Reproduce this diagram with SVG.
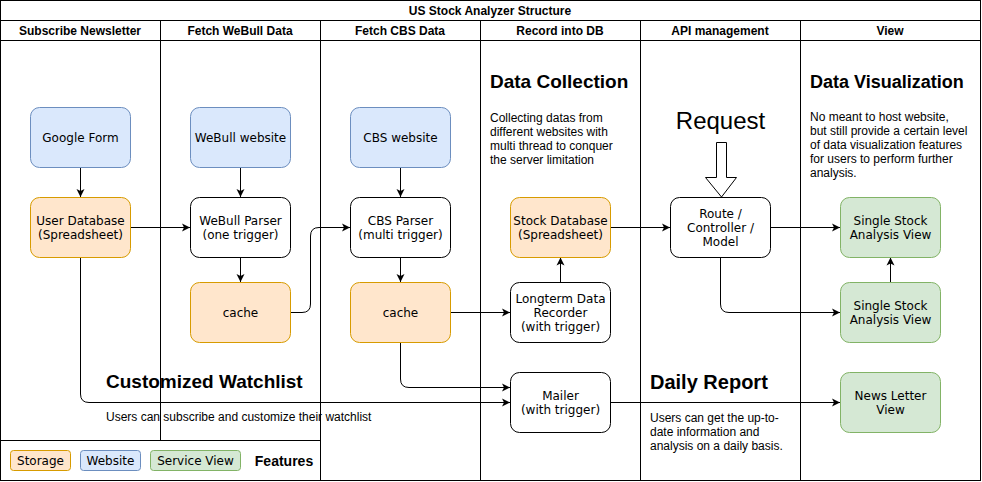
<svg xmlns="http://www.w3.org/2000/svg" width="982" height="482" viewBox="0 0 982 482">
<defs>
<marker id="arr" markerWidth="10" markerHeight="10" refX="8" refY="5" orient="auto" markerUnits="userSpaceOnUse">
<path d="M0,1 L8,5 L0,9 L2,5 Z" fill="#000"/>
</marker>
</defs>
<style>
.lane{fill:none;stroke:#000;stroke-width:1}
.hdr{font-family:"Liberation Sans",Arial,sans-serif;font-size:12px;font-weight:bold;text-anchor:middle;fill:#000}
.node rect{stroke-width:1}
.plain{fill:#fff;stroke:#000}
.org{fill:#ffe6cc;stroke:#d79b00}
.blu{fill:#dae8fc;stroke:#6c8ebf}
.grn{fill:#d5e8d4;stroke:#82b366}
.lbl{font-family:"DejaVu Sans",Verdana,sans-serif;font-size:12px;text-anchor:middle;fill:#000}
.big{font-family:"Liberation Sans",Arial,sans-serif;font-size:18px;font-weight:bold;fill:#000}
.body{font-family:"Liberation Sans",Arial,sans-serif;font-size:12px;fill:#000}
.edge{fill:none;stroke:#000;stroke-width:1;marker-end:url(#arr)}
</style>
<rect width="982" height="482" fill="#fff"/>
<g id="frame" class="lane">
<rect x="0.5" y="0.5" width="980" height="480"/>
<line x1="0.5" y1="20.5" x2="980.5" y2="20.5"/>
<line x1="0.5" y1="40.5" x2="980.5" y2="40.5"/>
<line x1="160.5" y1="20.5" x2="160.5" y2="440.5"/>
<line x1="320.5" y1="20.5" x2="320.5" y2="480.5"/>
<line x1="480.5" y1="20.5" x2="480.5" y2="480.5"/>
<line x1="640.5" y1="20.5" x2="640.5" y2="480.5"/>
<line x1="800.5" y1="20.5" x2="800.5" y2="480.5"/>
<line x1="0.5" y1="440.5" x2="320.5" y2="440.5"/>
</g>
<g id="headers">
<text class="hdr" x="490" y="15">US Stock Analyzer Structure</text>
<text class="hdr" x="80" y="35">Subscribe Newsletter</text>
<text class="hdr" x="240" y="35">Fetch WeBull Data</text>
<text class="hdr" x="400" y="35">Fetch CBS Data</text>
<text class="hdr" x="560" y="35">Record into DB</text>
<text class="hdr" x="720" y="35">API management</text>
<text class="hdr" x="890" y="35">View</text>
</g>
<g id="connectors">
<path class="edge" d="M80.5,167.5 V197"/>
<path class="edge" d="M130.5,227.5 H190"/>
<path class="edge" d="M240.5,167.5 V197"/>
<path class="edge" d="M240.5,257.5 V282"/>
<path class="edge" d="M290.5,312.5 H302 Q310.5,312.5 310.5,304 V236 Q310.5,227.5 319,227.5 H350"/>
<path class="edge" d="M400.5,167.5 V197"/>
<path class="edge" d="M400.5,257.5 V282"/>
<path class="edge" d="M450.5,312.5 H510"/>
<path class="edge" d="M560.5,282.5 V257.5"/>
<path class="edge" d="M610.5,227.5 H670"/>
<path class="edge" d="M770.5,227.5 H840"/>
<path class="edge" d="M720.5,257.5 V304 Q720.5,312.5 729,312.5 H840"/>
<path class="edge" d="M890.5,282.5 V257.5"/>
<path class="edge" d="M400.5,342.5 V379 Q400.5,387.5 409,387.5 H510"/>
<path class="edge" d="M80.5,257.5 V394 Q80.5,402.5 89,402.5 H510"/>
<path class="edge" d="M610.5,402.5 H840"/>
<path d="M716.5,142.5 H726.5 V177.5 H736.5 L721.5,197 L705.5,177.5 H716.5 Z" fill="#fff" stroke="#000"/>
</g>
<g id="google-form" class="node"><rect class="blu" x="30.5" y="107.5" width="100" height="60" rx="9"/><text class="lbl" x="80.5" y="141.5">Google Form</text></g>
<g id="user-db" class="node"><rect class="org" x="30.5" y="197.5" width="100" height="60" rx="9"/><text class="lbl" x="80.5" y="224.5">User Database</text><text class="lbl" x="80.5" y="238.5">(Spreadsheet)</text></g>
<g id="webull-site" class="node"><rect class="blu" x="190.5" y="107.5" width="100" height="60" rx="9"/><text class="lbl" x="240.5" y="141.5">WeBull website</text></g>
<g id="webull-parser" class="node"><rect class="plain" x="190.5" y="197.5" width="100" height="60" rx="9"/><text class="lbl" x="240.5" y="224.5">WeBull Parser</text><text class="lbl" x="240.5" y="238.5">(one trigger)</text></g>
<g id="webull-cache" class="node"><rect class="org" x="190.5" y="282.5" width="100" height="60" rx="9"/><text class="lbl" x="240.5" y="316.5">cache</text></g>
<g id="cbs-site" class="node"><rect class="blu" x="350.5" y="107.5" width="100" height="60" rx="9"/><text class="lbl" x="400.5" y="141.5">CBS website</text></g>
<g id="cbs-parser" class="node"><rect class="plain" x="350.5" y="197.5" width="100" height="60" rx="9"/><text class="lbl" x="400.5" y="224.5">CBS Parser</text><text class="lbl" x="400.5" y="238.5">(multi trigger)</text></g>
<g id="cbs-cache" class="node"><rect class="org" x="350.5" y="282.5" width="100" height="60" rx="9"/><text class="lbl" x="400.5" y="316.5">cache</text></g>
<g id="stock-db" class="node"><rect class="org" x="510.5" y="197.5" width="100" height="60" rx="9"/><text class="lbl" x="560.5" y="224.5">Stock Database</text><text class="lbl" x="560.5" y="238.5">(Spreadsheet)</text></g>
<g id="recorder" class="node"><rect class="plain" x="510.5" y="282.5" width="100" height="60" rx="9"/><text class="lbl" x="560.5" y="302.5">Longterm Data</text><text class="lbl" x="560.5" y="316.5">Recorder</text><text class="lbl" x="560.5" y="330.5">(with trigger)</text></g>
<g id="mailer" class="node"><rect class="plain" x="510.5" y="372.5" width="100" height="60" rx="9"/><text class="lbl" x="560.5" y="399.5">Mailer</text><text class="lbl" x="560.5" y="413.5">(with trigger)</text></g>
<g id="route" class="node"><rect class="plain" x="670.5" y="197.5" width="100" height="60" rx="9"/><text class="lbl" x="720.5" y="217.5">Route /</text><text class="lbl" x="720.5" y="231.5">Controller /</text><text class="lbl" x="720.5" y="245.5">Model</text></g>
<g id="ss-view-1" class="node"><rect class="grn" x="840.5" y="197.5" width="100" height="60" rx="9"/><text class="lbl" x="890.5" y="224.5">Single Stock</text><text class="lbl" x="890.5" y="238.5">Analysis View</text></g>
<g id="ss-view-2" class="node"><rect class="grn" x="840.5" y="282.5" width="100" height="60" rx="9"/><text class="lbl" x="890.5" y="309.5">Single Stock</text><text class="lbl" x="890.5" y="323.5">Analysis View</text></g>
<g id="newsletter-view" class="node"><rect class="grn" x="840.5" y="372.5" width="100" height="60" rx="9"/><text class="lbl" x="890.5" y="399.5">News Letter</text><text class="lbl" x="890.5" y="413.5">View</text></g>
<g id="request"><text x="720.5" y="129" font-family="Liberation Sans, Arial, sans-serif" font-size="24" text-anchor="middle">Request</text></g>
<g id="notes">
<text class="big" x="490" y="88" font-size="19" style="font-size:19px">Data Collection</text>
<text class="body" x="490" y="122">Collecting datas from</text>
<text class="body" x="490" y="136">different websites with</text>
<text class="body" x="490" y="150">multi thread to conquer</text>
<text class="body" x="490" y="164">the server limitation</text>
<text class="big" x="810" y="88">Data Visualization</text>
<text class="body" x="810" y="121">No meant to host website,</text>
<text class="body" x="810" y="135">but still provide a certain level</text>
<text class="body" x="810" y="149">of data visualization features</text>
<text class="body" x="810" y="163">for users to perform further</text>
<text class="body" x="810" y="177">analysis.</text>
<text class="big" x="106" y="388" style="font-size:19px">Customized Watchlist</text>
<text class="body" x="106" y="421">Users can subscribe and customize their watchlist</text>
<text class="big" x="650" y="389" style="font-size:20px">Daily Report</text>
<text class="body" x="650" y="422">Users can get the up-to-</text>
<text class="body" x="650" y="436">date information and</text>
<text class="body" x="650" y="450">analysis on a daily basis.</text>
</g>
<g id="legend">
<rect class="org" x="10.5" y="450.5" width="60" height="20" rx="3"/><text class="lbl" x="40.5" y="465">Storage</text>
<rect class="blu" x="80.5" y="450.5" width="60" height="20" rx="3"/><text class="lbl" x="110.5" y="465">Website</text>
<rect class="grn" x="150.5" y="450.5" width="90" height="20" rx="3"/><text class="lbl" x="195.5" y="465">Service View</text>
<text x="284" y="466" font-family="Liberation Sans, Arial, sans-serif" font-size="14" font-weight="bold" text-anchor="middle">Features</text>
</g>
</svg>
